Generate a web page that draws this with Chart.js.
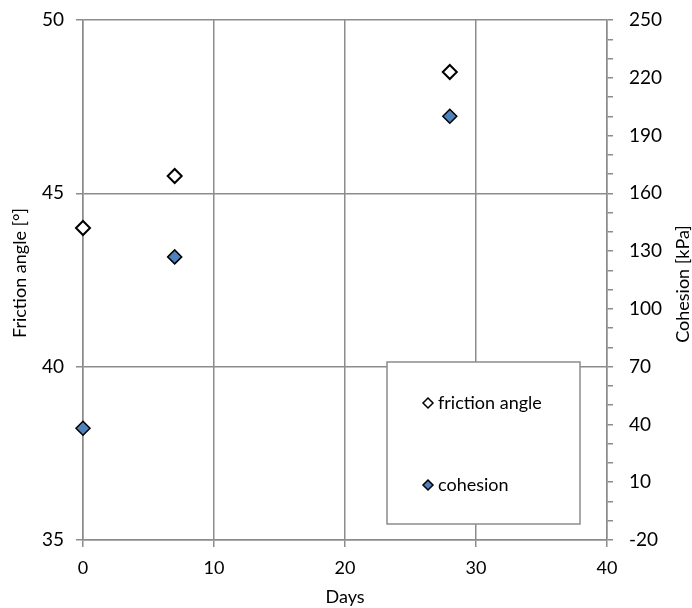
<!DOCTYPE html>
<html>
<head>
<meta charset="utf-8">
<script src="https://cdn.jsdelivr.net/npm/chart.js@4/dist/chart.umd.min.js"></script>
<style>
  html, body { margin: 0; padding: 0; background: #fff; }
  #wrap { width: 692px; height: 608px; }
</style>
</head>
<body>
<div id="wrap"><canvas id="chart" width="692" height="608"></canvas></div>
<script>
// Data
const days = [0, 7, 28]
const frictionAngle = [44, 45.5, 48.5]
const cohesion = [38, 127, 200]

const seriesNames = ['friction angle', 'cohesion']
const xTicks = [0, 10, 20, 30, 40]
const leftTicks = [35, 40, 45, 50]
const rightMin = -20
const rightMax = 250
const leftTitle = 'Friction angle [°]'
const rightTitle = 'Cohesion [kPa]'

const FONT = 'Lato, "Open Sans", sans-serif'
const GRID = '#8c8c8c'
const BLUE = '#4f81bd'

// Small legend box drawn inside the plot area, like the original
const boxLegend = {
  id: 'boxLegend',
  afterDraw(chart) {
    const { ctx, chartArea: ca } = chart
    const left = ca.right - 220
    const top = ca.bottom - 178
    ctx.save()
    ctx.fillStyle = '#fff'
    ctx.fillRect(left, top, 193, 162)
    ctx.strokeStyle = GRID
    ctx.lineWidth = 1.5
    ctx.strokeRect(left, top, 193, 162)

    const entries = [
      { name: seriesNames[0], fill: '#fff', y: top + 41 },
      { name: seriesNames[1], fill: BLUE, y: top + 123 }
    ]
    entries.forEach(e => {
      const cx = left + 41
      const r = 5
      ctx.beginPath()
      ctx.moveTo(cx, e.y - r)
      ctx.lineTo(cx + r, e.y)
      ctx.lineTo(cx, e.y + r)
      ctx.lineTo(cx - r, e.y)
      ctx.closePath()
      ctx.fillStyle = e.fill
      ctx.fill()
      ctx.strokeStyle = '#000'
      ctx.lineWidth = 1.5
      ctx.stroke()
      ctx.fillStyle = '#000'
      ctx.font = '18px ' + FONT
      ctx.textBaseline = 'middle'
      ctx.textAlign = 'left'
      ctx.fillText(e.name, cx + 10, e.y)
    })

    // both y titles read bottom-to-top, as in the original
    ctx.font = '18px ' + FONT
    ctx.textAlign = 'center'
    ctx.textBaseline = 'middle'
    const titles = [
      { text: leftTitle, x: 20, y: ca.top + 253 },
      { text: rightTitle, x: chart.width - 9, y: ca.top + 264 }
    ]
    titles.forEach(t => {
      ctx.save()
      ctx.translate(t.x, t.y)
      ctx.rotate(-Math.PI / 2)
      ctx.fillText(t.text, 0, 0)
      ctx.restore()
    })
    ctx.restore()
  }
}

// keep tick-label overflow from pushing the plot area around
const noPad = s => { s.paddingTop = 0; s.paddingBottom = 0 }

new Chart(document.getElementById('chart'), {
  type: 'scatter',
  data: {
    datasets: [
      {
        label: seriesNames[0],
        data: days.map((d, i) => ({ x: d, y: frictionAngle[i] })),
        yAxisID: 'y',
        clip: false,
        pointStyle: 'rectRot',
        pointRadius: 7,
        pointBackgroundColor: '#fff',
        pointBorderColor: '#000',
        pointBorderWidth: 2
      },
      {
        label: seriesNames[1],
        data: days.map((d, i) => ({ x: d, y: cohesion[i] })),
        yAxisID: 'y2',
        clip: false,
        pointStyle: 'rectRot',
        pointRadius: 7,
        pointBackgroundColor: BLUE,
        pointBorderColor: '#000',
        pointBorderWidth: 1.5
      }
    ]
  },
  options: {
    responsive: false,
    animation: false,
    layout: { padding: { top: 20, left: 0, right: 0, bottom: 0 } },
    plugins: {
      legend: { display: false },
      tooltip: { enabled: false }
    },
    scales: {
      x: {
        type: 'linear',
        min: 0,
        max: 40,
        afterBuildTicks: s => { s.ticks = xTicks.map(v => ({ value: v })) },
        afterFit: s => { s.height = 68; s.paddingLeft = 0; s.paddingRight = 0 },
        grid: { color: GRID, lineWidth: 1.5, tickLength: 7 },
        border: { color: GRID, width: 1.5 },
        ticks: { color: '#000', font: { family: FONT, size: 18 }, padding: 10 },
        title: { display: true, text: 'Days', color: '#000', font: { family: FONT, size: 18 }, padding: { top: 0, bottom: 0 } }
      },
      y: {
        type: 'linear',
        position: 'left',
        min: 35,
        max: 50,
        afterBuildTicks: s => { s.ticks = leftTicks.map(v => ({ value: v })) },
        afterFit: s => { s.width = 83; noPad(s) },
        grid: { color: GRID, lineWidth: 1.5, tickLength: 7 },
        border: { color: GRID, width: 1.5 },
        ticks: { color: '#000', font: { family: FONT, size: 19 }, padding: 12 }
      },
      y2: {
        type: 'linear',
        position: 'right',
        min: rightMin,
        max: rightMax,
        afterFit: s => { s.width = 85; noPad(s) },
        grid: { drawOnChartArea: false, color: GRID, lineWidth: 1.5, tickLength: 6 },
        border: { color: GRID, width: 1.5 },
        ticks: {
          stepSize: 10,
          autoSkip: false,
          color: '#000',
          font: { family: FONT, size: 19 },
          padding: 16,
          callback: v => ((v - rightMin) % 30 === 0 ? String(v) : '')
        }
      }
    }
  },
  plugins: [boxLegend]
})
</script>
</body>
</html>
